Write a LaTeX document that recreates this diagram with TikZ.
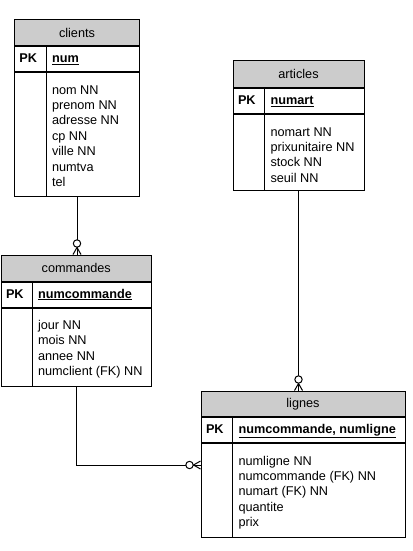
\documentclass[tikz,border=0pt]{standalone}
\usepackage{fontspec}
\setmainfont{Liberation Sans}
\usepackage{tikz}
\usetikzlibrary{
	positioning,    % placement relatif
	calc            % decalages sur les ancres
}
\definecolor{grisentete}{RGB}{204,204,204}

\begin{document}
\begin{tikzpicture}[
		x=1pt, y=-1pt,
		line width=1pt,
		font=\fontsize{12.7}{15.4}\selectfont,
		entete/.style={draw, fill=grisentete, anchor=north west, inner sep=0pt, minimum height=26pt},
		cle/.style={draw, anchor=north west, inner sep=0pt, minimum height=25pt},
		corps/.style={draw, anchor=north west, inner sep=0pt},
		champ/.style={anchor=base west, inner sep=0pt},
		patte/.pic={
			\draw (0,4) -- (7,0) -- (0,-4);
			\draw (0,0) -- (7,0);
			\draw[fill=white] (11,0) circle (3.7pt);
		}
	]
	\useasboundingbox (0,0) rectangle (412,551);
	
	% --- clients ---
	\node[entete, minimum width=125pt] (clients-t) at (14,19) {clients};
	\node[cle, minimum width=125pt] (clients-pk) at (clients-t.south west) {};
	\node[corps, minimum width=125pt, minimum height=124pt] (clients-b) at (clients-pk.south west) {};
	\draw ($(clients-pk.north west)+(32,0)$) -- ($(clients-b.south west)+(32,0)$);
	\node[champ] (clients-pkl) at ($(clients-pk.west)+(5,3.5)$) {\textbf{PK}};
	\node[champ] (clients-key) at ($(clients-pk.west)+(37.5,3.5)$) {\underline{\textbf{num}}};
	\foreach \c [count=\i from 0] in {nom NN, prenom NN, adresse NN, cp NN, ville NN, numtva, tel}
		\node[champ] (clients-\i) at ($(clients-b.north west)+(37.5,22+15.4*\i)$) {\c};
	
	% --- articles ---
	\node[entete, minimum width=131pt, minimum height=27pt] (articles-t) at (232.5,60) {articles};
	\node[cle, minimum width=131pt] (articles-pk) at (articles-t.south west) {};
	\node[corps, minimum width=131pt, minimum height=76pt] (articles-b) at (articles-pk.south west) {};
	\draw ($(articles-pk.north west)+(32,0)$) -- ($(articles-b.south west)+(32,0)$);
	\node[champ] (articles-pkl) at ($(articles-pk.west)+(5,3.5)$) {\textbf{PK}};
	\node[champ] (articles-key) at ($(articles-pk.west)+(37.5,3.5)$) {\underline{\textbf{numart}}};
	\foreach \c [count=\i from 0] in {nomart NN, prixunitaire NN, stock NN, seuil NN}
		\node[champ] (articles-\i) at ($(articles-b.north west)+(37.5,22+15.4*\i)$) {\c};
	
	% --- commandes ---
	\node[entete, minimum width=150.5pt] (commandes-t) at (0.5,254.5) {commandes};
	\node[cle, minimum width=150.5pt] (commandes-pk) at (commandes-t.south west) {};
	\node[corps, minimum width=150.5pt, minimum height=78pt] (commandes-b) at (commandes-pk.south west) {};
	\draw ($(commandes-pk.north west)+(32,0)$) -- ($(commandes-b.south west)+(32,0)$);
	\node[champ] (commandes-pkl) at ($(commandes-pk.west)+(5,3.5)$) {\textbf{PK}};
	\node[champ] (commandes-key) at ($(commandes-pk.west)+(37,3.5)$) {\underline{\textbf{numcommande}}};
	\foreach \c [count=\i from 0] in {jour NN, mois NN, annee NN, numclient (FK) NN}
		\node[champ] (commandes-\i) at ($(commandes-b.north west)+(37,21.5+15.5*\i)$) {\c};
	
	% --- lignes ---
	\node[entete, minimum width=204pt, minimum height=25.5pt] (lignes-t) at (200.5,390.5) {lignes};
	\node[cle, minimum width=204pt] (lignes-pk) at (lignes-t.south west) {};
	\node[corps, minimum width=204pt, minimum height=93.5pt] (lignes-b) at (lignes-pk.south west) {};
	\draw ($(lignes-pk.north west)+(32,0)$) -- ($(lignes-b.south west)+(32,0)$);
	\node[champ] (lignes-pkl) at ($(lignes-pk.west)+(5,3.5)$) {\textbf{PK}};
	\node[champ] (lignes-key) at ($(lignes-pk.west)+(37.5,3.5)$) {\underline{\textbf{numcommande, numligne}}};
	\foreach \c [count=\i from 0] in {numligne NN, numcommande (FK) NN, numart (FK) NN, quantite, prix}
		\node[champ] (lignes-\i) at ($(lignes-b.north west)+(37.5,22+15.4*\i)$) {\c};
	
	% --- Liens ---
	\coordinate (cl-co) at (clients-b.south |- commandes-t.north);
	\coordinate (ar-li) at (articles-b.south |- lignes-t.north);
	\coordinate (co-li) at ($(lignes-b.north west)+(0,22)$);
	\draw (clients-b.south) -- (cl-co);
	\draw (articles-b.south) -- (ar-li);
	\draw (commandes-b.south) |- (co-li);
	
	% --- Pattes d'oie (zero ou plusieurs) ---
	\pic[rotate=90] at (cl-co) {patte};
	\pic[rotate=90] at (ar-li) {patte};
	\pic[rotate=180] at (co-li) {patte};
	
\end{tikzpicture}
\end{document}
